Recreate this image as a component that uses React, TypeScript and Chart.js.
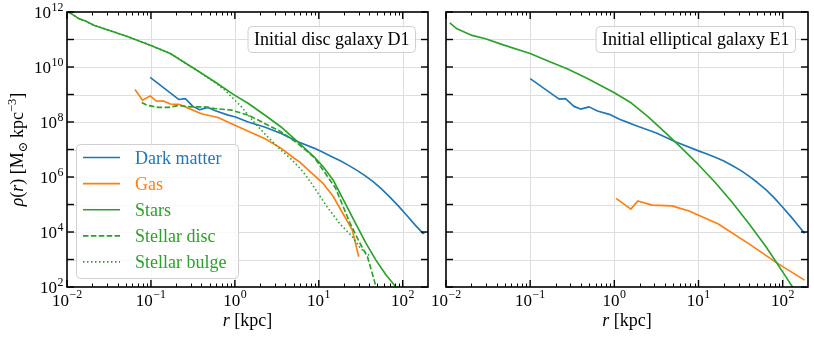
import React, { useEffect, useRef } from 'react';
import { Chart, registerables } from 'chart.js';

Chart.register(...registerables);

const FONT = '"Liberation Serif", "DejaVu Serif", serif';
const C_DM = '#1f77b4';
const C_GAS = '#ff7f0e';
const C_STARS = '#2ca02c';

// ---------- Panel 1: Initial disc galaxy D1 ----------
const d1DarkR = [0.098, 0.214, 0.257, 0.316, 0.38, 0.479, 0.575, 0.83, 1.0, 1.44, 2.26, 3.57, 5.62, 8.91, 11.2, 14.1, 17.8, 22.4, 28.2, 35.5, 44.7, 56.2, 70.8, 89.1, 112, 141, 174, 182];
const d1DarkRho = [4.2e9, 6.6e8, 7.1e8, 3.7e8, 2.8e8, 3.4e8, 2.6e8, 1.78e8, 1.55e8, 1.0e8, 6.6e7, 3.8e7, 1.9e7, 1.1e7, 7.9e6, 5.6e6, 4.0e6, 2.7e6, 1.78e6, 1.12e6, 6.6e5, 3.6e5, 1.82e5, 8.7e4, 4.0e4, 1.78e4, 8.9e3, 9.5e3];

const d1GasR = [0.0646, 0.0794, 0.098, 0.115, 0.141, 0.17, 0.214, 0.257, 0.398, 0.63, 1.0, 2.26, 3.57, 5.13, 5.89, 11.2, 14.8, 19.3, 25.1, 29.9];
const d1GasRho = [1.51e9, 6.2e8, 8.9e8, 5.9e8, 5.75e8, 4.5e8, 4.4e8, 3.55e8, 2.0e8, 1.45e8, 7.6e7, 2.5e7, 1.1e7, 4.7e6, 3.55e6, 5.9e5, 2.0e5, 4.8e4, 1.17e4, 1.26e3];

const d1StarsR = [0.01, 0.011, 0.0138, 0.0166, 0.0209, 0.0513, 0.098, 0.17, 0.38, 0.575, 1.0, 1.45, 2.4, 3.55, 5.62, 8.9, 11.2, 14.8, 20, 27.5, 36.3, 47.9, 63, 83, 89];
const d1StarsRho = [1e12, 9.1e11, 5.75e11, 4.7e11, 3.3e11, 1.32e11, 6.2e10, 3.1e10, 6.6e9, 2.9e9, 9.3e8, 4.7e8, 1.58e8, 6.6e7, 1.9e7, 5.2e6, 2.4e6, 7.8e5, 1.32e5, 2.0e4, 4.0e3, 950, 280, 100, 76];

const d1DiscR = [0.0776, 0.089, 0.123, 0.162, 0.214, 0.302, 0.437, 0.575, 0.912, 1.44, 2.26, 3.55, 5.62, 8.9, 15.8, 23.4, 30.9, 38, 45.7, 49];
const d1DiscRho = [5.1e8, 4.1e8, 3.4e8, 3.4e8, 4.0e8, 3.55e8, 3.55e8, 3.1e8, 2.7e8, 1.78e8, 8.9e7, 4.4e7, 1.66e7, 5.0e6, 4.0e5, 2.2e4, 3.9e3, 1.26e3, 178, 79];

const d1BulgeR = [0.01, 0.011, 0.0138, 0.0166, 0.0209, 0.0513, 0.098, 0.17, 0.38, 0.575, 0.76, 1.2, 1.74, 2.45, 3.55, 4.68, 6.46, 8.5, 12.3, 17.8, 25.1, 31.6, 41.7];
const d1BulgeRho = [1e12, 9.1e11, 5.75e11, 4.7e11, 3.3e11, 1.32e11, 6.2e10, 3.1e10, 6.5e9, 2.75e9, 1.45e9, 3.55e8, 8.9e7, 2.9e7, 9.5e6, 4.5e6, 1.58e6, 5.0e5, 8.9e4, 2.0e4, 6.8e3, 2.5e3, 1.26e3];

// ---------- Panel 2: Initial elliptical galaxy E1 ----------
const e1DarkR = [0.1, 0.221, 0.263, 0.331, 0.398, 0.501, 0.631, 0.871, 1.17, 1.55, 1.86, 3.16, 5.31, 10, 12.6, 15.8, 20, 25.1, 31.6, 39.8, 50.1, 63.1, 79.4, 100, 126, 158, 182];
const e1DarkRho = [3.8e9, 6.8e8, 7.1e8, 3.7e8, 2.95e8, 3.55e8, 2.5e8, 1.9e8, 1.23e8, 8.9e7, 7.1e7, 4.0e7, 1.9e7, 8.9e6, 6.9e6, 5.25e6, 3.8e6, 2.63e6, 1.74e6, 1.07e6, 6.3e5, 3.47e5, 1.74e5, 7.9e4, 3.55e4, 1.51e4, 8.9e3];

const e1GasR = [1.05, 1.57, 1.91, 2.8, 4.83, 7.59, 10.5, 17, 39.8, 87, 182];
const e1GasRho = [1.66e5, 6.8e4, 1.35e5, 9.5e4, 8.9e4, 5.9e4, 3.8e4, 2.0e4, 3.7e3, 7.2e2, 178];

const e1StarsR = [0.0111, 0.0135, 0.0204, 0.0295, 0.0468, 0.1, 0.174, 0.275, 0.479, 1.0, 1.58, 2.51, 3.98, 6.31, 10, 15.8, 25.1, 39.8, 63.1, 100, 141];
const e1StarsRho = [4.0e11, 2.45e11, 1.41e11, 1.07e11, 6.5e10, 3.1e10, 1.51e10, 8.7e9, 3.8e9, 1.15e9, 5.0e8, 1.58e8, 4.3e7, 1.12e7, 2.8e6, 6.3e5, 1.2e5, 2.0e4, 2.95e3, 355, 71];

// ---------- Axes / labels ----------
const X_MIN = 0.01;
const X_MAX = 200;
const Y_MIN = 1e2;
const Y_MAX = 1e12;
const xMajorExps = [-2, -1, 0, 1, 2];
const xTickLabels = ['\u22122', '\u22121', '0', '1', '2'];
const yMajorExps = [2, 3, 4, 5, 6, 7, 8, 9, 10, 11, 12];
const yLabelExps = [2, 4, 6, 8, 10, 12];
const yTickLabels = ['2', '4', '6', '8', '10', '12'];
const legendLabels = ['Dark matter', 'Gas', 'Stars', 'Stellar disc', 'Stellar bulge'];
const panelTitles = ['Initial disc galaxy D1', 'Initial elliptical galaxy E1'];

const DASHED = [5.5, 2.4];
const DOTTED = [1.5, 2.5];
const LW = 1.65;

function pts(r: number[], rho: number[]) {
  return r.map((x, i) => ({ x, y: rho[i] }));
}

function ds(label: string, r: number[], rho: number[], color: string, dash: number[], order: number) {
  return {
    label,
    data: pts(r, rho),
    borderColor: color,
    backgroundColor: color,
    borderWidth: LW,
    borderDash: dash,
    borderJoinStyle: 'round' as const,
    pointRadius: 0,
    fill: false,
    tension: 0,
    order,
  };
}

function line(ctx: CanvasRenderingContext2D, x1: number, y1: number, x2: number, y2: number) {
  ctx.beginPath();
  ctx.moveTo(x1, y1);
  ctx.lineTo(x2, y2);
  ctx.stroke();
}

function roundRect(ctx: CanvasRenderingContext2D, x: number, y: number, w: number, h: number, r: number) {
  ctx.beginPath();
  ctx.moveTo(x + r, y);
  ctx.lineTo(x + w - r, y);
  ctx.quadraticCurveTo(x + w, y, x + w, y + r);
  ctx.lineTo(x + w, y + h - r);
  ctx.quadraticCurveTo(x + w, y + h, x + w - r, y + h);
  ctx.lineTo(x + r, y + h);
  ctx.quadraticCurveTo(x, y + h, x, y + h - r);
  ctx.lineTo(x, y + r);
  ctx.quadraticCurveTo(x, y, x + r, y);
  ctx.closePath();
}

function drawPow(ctx: CanvasRenderingContext2D, exp: string, x: number, y: number, align: 'center' | 'right', size: number) {
  const baseFont = `${size}px ${FONT}`;
  const supSize = size * 0.7;
  const supFont = `${supSize}px ${FONT}`;
  ctx.font = baseFont;
  const w1 = ctx.measureText('10').width;
  ctx.font = supFont;
  const w2 = ctx.measureText(exp).width;
  const total = w1 + w2 + 0.5;
  const x0 = align === 'center' ? x - total / 2 : x - total;
  ctx.textAlign = 'left';
  ctx.textBaseline = 'alphabetic';
  ctx.font = baseFont;
  ctx.fillText('10', x0, y);
  ctx.font = supFont;
  ctx.fillText(exp, x0 + w1 + 0.5, y - size * 0.42);
}

type Seg = { t: string; italic?: boolean; scale?: number; dy?: number };

function drawSegs(ctx: CanvasRenderingContext2D, segs: Seg[], cx: number, baseY: number, size: number) {
  const fontOf = (s: Seg) => `${s.italic ? 'italic ' : ''}${size * (s.scale || 1)}px ${FONT}`;
  let total = 0;
  const widths = segs.map((s) => {
    ctx.font = fontOf(s);
    const w = ctx.measureText(s.t).width;
    total += w;
    return w;
  });
  let x = cx - total / 2;
  ctx.textAlign = 'left';
  ctx.textBaseline = 'alphabetic';
  segs.forEach((s, i) => {
    ctx.font = fontOf(s);
    ctx.fillText(s.t, x, baseY + (s.dy || 0));
    x += widths[i];
  });
}

const legendRows = [
  { color: C_DM, dash: [] as number[] },
  { color: C_GAS, dash: [] as number[] },
  { color: C_STARS, dash: [] as number[] },
  { color: C_STARS, dash: DASHED },
  { color: C_STARS, dash: DOTTED },
];

function makePlugin(opts: { yLabels: boolean; legend: boolean; title: string; titleRight: number }) {
  return {
    id: 'decor',
    beforeDatasetsDraw(chart: any) {
      const { ctx, chartArea: a, scales } = chart;
      const xs = scales.x;
      const ys = scales.y;
      ctx.save();
      ctx.strokeStyle = '#dedede';
      ctx.lineWidth = 1;
      for (const e of xMajorExps) {
        const px = Math.round(xs.getPixelForValue(Math.pow(10, e))) + 0.5;
        if (px > a.left + 1 && px < a.right - 1) line(ctx, px, a.top, px, a.bottom);
      }
      for (const e of yMajorExps) {
        const py = Math.round(ys.getPixelForValue(Math.pow(10, e))) + 0.5;
        if (py > a.top + 1 && py < a.bottom - 1) line(ctx, a.left, py, a.right, py);
      }
      ctx.restore();
    },
    afterDraw(chart: any) {
      const { ctx, chartArea: a, scales } = chart;
      const xs = scales.x;
      const ys = scales.y;
      ctx.save();
      ctx.strokeStyle = '#000';
      ctx.fillStyle = '#000';
      ctx.setLineDash([]);
      // major x ticks
      ctx.lineWidth = 1.4;
      xMajorExps.forEach((e) => {
        const px = xs.getPixelForValue(Math.pow(10, e));
        line(ctx, px, a.bottom, px, a.bottom - 7);
        line(ctx, px, a.top, px, a.top + 7);
      });
      // minor x ticks
      ctx.lineWidth = 1;
      for (let e = -2; e <= 2; e++) {
        for (let m = 2; m <= 9; m++) {
          const v = m * Math.pow(10, e);
          if (v >= X_MAX) continue;
          const px = Math.round(xs.getPixelForValue(v)) + 0.5;
          line(ctx, px, a.bottom, px, a.bottom - 3.5);
          line(ctx, px, a.top, px, a.top + 3.5);
        }
      }
      // y ticks
      ctx.lineWidth = 1.4;
      yMajorExps.forEach((e) => {
        const py = ys.getPixelForValue(Math.pow(10, e));
        line(ctx, a.left, py, a.left + 7, py);
        line(ctx, a.right, py, a.right - 7, py);
      });
      // frame
      ctx.lineWidth = 1.6;
      ctx.strokeRect(a.left, a.top, a.right - a.left, a.bottom - a.top);

      // tick labels
      ctx.fillStyle = '#000';
      xMajorExps.forEach((e, i) => {
        const px = xs.getPixelForValue(Math.pow(10, e));
        drawPow(ctx, xTickLabels[i], px, a.bottom + 18.5, 'center', 17);
      });
      if (opts.yLabels) {
        yLabelExps.forEach((e, i) => {
          const py = ys.getPixelForValue(Math.pow(10, e));
          drawPow(ctx, yTickLabels[i], a.left - 3.5, py + 6, 'right', 17);
        });
        // y axis title
        ctx.save();
        ctx.translate(23, (a.top + a.bottom) / 2);
        ctx.rotate(-Math.PI / 2);
        drawSegs(
          ctx,
          [
            { t: '\u03c1', italic: true },
            { t: '(' },
            { t: 'r', italic: true },
            { t: ') [M' },
            { t: '\u2299', scale: 0.7, dy: 3.5 },
            { t: '\u2009kpc' },
            { t: '\u22123', scale: 0.7, dy: -7.5 },
            { t: ']' },
          ],
          0,
          0,
          18
        );
        ctx.restore();
      }
      // x axis title
      drawSegs(ctx, [{ t: 'r', italic: true }, { t: ' [kpc]' }], (a.left + a.right) / 2, a.bottom + 39, 18);

      // title box
      ctx.font = `18px ${FONT}`;
      const tw = ctx.measureText(opts.title).width;
      const bw = tw + 12;
      const bx = opts.titleRight - bw;
      roundRect(ctx, bx + 0.5, 26.5, bw, 26, 4);
      ctx.fillStyle = 'rgba(255,255,255,0.8)';
      ctx.fill();
      ctx.strokeStyle = '#d0d0d0';
      ctx.lineWidth = 1;
      ctx.stroke();
      ctx.fillStyle = '#000';
      ctx.textAlign = 'left';
      ctx.textBaseline = 'alphabetic';
      ctx.fillText(opts.title, bx + 6.5, 44.5);

      // legend
      if (opts.legend) {
        roundRect(ctx, 76.5, 144.5, 162, 134, 4);
        ctx.fillStyle = 'rgba(255,255,255,0.8)';
        ctx.fill();
        ctx.strokeStyle = '#d0d0d0';
        ctx.lineWidth = 1;
        ctx.stroke();
        legendRows.forEach((row, i) => {
          const y = 157.5 + i * 26.1;
          ctx.strokeStyle = row.color;
          ctx.lineWidth = LW;
          ctx.setLineDash(row.dash);
          line(ctx, 83, y, 120, y);
          ctx.setLineDash([]);
          ctx.fillStyle = row.color;
          ctx.font = `18px ${FONT}`;
          ctx.textAlign = 'left';
          ctx.textBaseline = 'alphabetic';
          ctx.fillText(legendLabels[i], 135, y + 6);
        });
      }
      ctx.restore();
    },
  };
}

function makeConfig(datasets: any[], padding: any, plugin: any): any {
  return {
    type: 'line',
    data: { datasets },
    options: {
      responsive: false,
      animation: false,
      devicePixelRatio: 1,
      events: [],
      layout: { padding },
      plugins: { legend: { display: false }, tooltip: { enabled: false }, title: { display: false } },
      scales: {
        x: { type: 'logarithmic', min: X_MIN, max: X_MAX, display: false },
        y: { type: 'logarithmic', min: Y_MIN, max: Y_MAX, display: false },
      },
      elements: { point: { radius: 0 }, line: { tension: 0 } },
    },
    plugins: [plugin],
  };
}

export default function App() {
  const ref1 = useRef<HTMLCanvasElement>(null);
  const ref2 = useRef<HTMLCanvasElement>(null);

  useEffect(() => {
    const d1 = [
      ds(legendLabels[0], d1DarkR, d1DarkRho, C_DM, [], 5),
      ds(legendLabels[1], d1GasR, d1GasRho, C_GAS, [], 4),
      ds(legendLabels[2], d1StarsR, d1StarsRho, C_STARS, [], 3),
      ds(legendLabels[3], d1DiscR, d1DiscRho, C_STARS, DASHED, 2),
      ds(legendLabels[4], d1BulgeR, d1BulgeRho, C_STARS, DOTTED, 1),
    ];
    const e1 = [
      ds(legendLabels[0], e1DarkR, e1DarkRho, C_DM, [], 3),
      ds(legendLabels[1], e1GasR, e1GasRho, C_GAS, [], 2),
      ds(legendLabels[2], e1StarsR, e1StarsRho, C_STARS, [], 1),
    ];
    const c1 = new Chart(
      ref1.current as HTMLCanvasElement,
      makeConfig(d1, { left: 67, right: 386, top: 12, bottom: 50 }, makePlugin({ yLabels: true, legend: true, title: panelTitles[0], titleRight: 415 }))
    );
    const c2 = new Chart(
      ref2.current as HTMLCanvasElement,
      makeConfig(e1, { left: 446, right: 6, top: 12, bottom: 50 }, makePlugin({ yLabels: false, legend: false, title: panelTitles[1], titleRight: 795 }))
    );
    return () => {
      c1.destroy();
      c2.destroy();
    };
  }, []);

  return (
    <div style={{ position: 'fixed', left: 0, top: 0, width: 814, height: 337, background: '#fff', overflow: 'hidden' }}>
      <canvas ref={ref1} width={814} height={337} style={{ position: 'absolute', left: 0, top: 0 }} />
      <canvas ref={ref2} width={814} height={337} style={{ position: 'absolute', left: 0, top: 0 }} />
    </div>
  );
}
